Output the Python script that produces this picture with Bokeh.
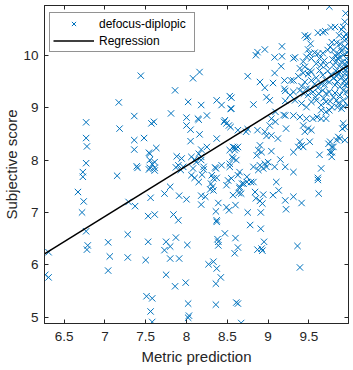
from bokeh.plotting import figure
from bokeh.models import Range1d, LinearAxis, FixedTicker, Legend, LegendItem, CustomLabelingPolicy
from bokeh.embed import file_html
from bokeh.resources import INLINE

x_ticks = [6.5, 7, 7.5, 8, 8.5, 9, 9.5]
x_tick_labels = ["6.5", "7", "7.5", "8", "8.5", "9", "9.5"]
y_ticks = [5, 6, 7, 8, 9, 10]
y_tick_labels = ["5", "6", "7", "8", "9", "10"]

# sparse left / bottom region
pred_a = [7.44, 7.17, 7.18, 6.77, 6.77, 6.78, 6.77, 6.73, 6.73, 7.15,
          7.36, 7.36, 7.36, 7.39, 7.40, 7.48, 7.57, 7.60, 7.54, 7.55,
          7.63, 7.55, 7.58, 7.61, 7.55, 7.61, 7.54, 7.61, 7.81, 7.86,
          7.88, 7.87, 7.90, 7.80, 6.67, 6.74, 6.72, 6.77, 6.79, 6.78,
          6.31, 6.27, 6.31, 7.04, 7.06, 7.04, 7.28, 7.28, 7.29, 7.37,
          7.50, 7.53, 7.53, 7.56, 7.61, 7.51, 7.58, 7.56, 7.58, 7.73,
          7.73, 7.75, 7.80, 7.80, 7.75, 7.86, 7.84, 7.87, 7.90, 7.91,
          7.91, 8.01, 7.99, 8.02, 8.03, 8.02, 8.36]
score_a = [9.61, 9.10, 8.60, 8.72, 8.42, 8.26, 7.94, 7.77, 7.68, 7.70,
           8.84, 8.38, 8.20, 7.88, 7.85, 8.42, 8.70, 8.73, 8.14, 8.12,
           8.23, 8.00, 7.92, 7.96, 7.85, 7.85, 7.82, 7.80, 8.89, 9.33,
           8.07, 7.86, 7.90, 7.49, 7.39, 7.21, 7.00, 6.64, 6.37, 6.29,
           6.24, 5.81, 5.76, 6.43, 6.16, 5.89, 6.58, 6.14, 7.20, 7.12,
           6.09, 6.44, 6.93, 7.28, 6.96, 5.40, 5.36, 5.11, 4.91, 7.36,
           6.28, 6.44, 6.35, 6.12, 5.81, 5.59, 6.96, 6.52, 6.85, 7.32,
           6.12, 6.38, 5.66, 5.26, 5.03, 4.99, 5.24]

# lower middle region
pred_b = [8.47, 8.38, 8.39, 8.39, 8.27, 8.33, 8.37, 8.42, 8.36, 8.59,
          8.60, 8.63, 8.87, 8.92, 8.95, 8.93, 9.36, 9.39, 8.61, 8.63,
          8.67, 8.91, 8.78, 8.75, 8.91, 8.85, 8.90, 8.93, 8.37, 8.37,
          8.36, 8.39, 8.49, 8.52, 8.60, 8.57, 8.18, 8.18, 8.23, 8.00,
          8.15, 8.30, 8.32, 8.29, 8.33, 8.53, 8.51, 8.49, 8.55, 8.31,
          8.33, 8.36, 8.37, 8.21, 8.19, 8.08, 8.06, 8.10, 7.93, 8.68,
          8.65, 8.64, 8.67, 8.74, 8.79, 8.82, 9.10, 9.06, 9.13, 9.21,
          9.22, 9.31, 9.41, 9.62, 9.61, 9.31, 9.65, 9.61]
score_b = [6.60, 6.49, 6.37, 6.44, 6.01, 6.06, 5.93, 5.76, 5.64, 6.22,
           6.51, 6.33, 6.29, 6.31, 6.44, 6.27, 6.36, 5.95, 5.28, 5.26,
           4.89, 6.69, 6.76, 7.00, 7.00, 7.27, 7.22, 7.17, 6.85, 6.82,
           7.02, 7.18, 7.10, 7.04, 7.14, 7.33, 7.32, 7.15, 7.30, 7.25,
           7.58, 7.55, 7.49, 7.44, 7.42, 7.87, 7.61, 7.52, 7.65, 7.71,
           7.65, 7.84, 7.66, 7.82, 7.72, 7.84, 7.71, 7.66, 7.81, 7.55,
           7.49, 7.37, 7.36, 7.58, 7.58, 7.58, 7.58, 7.33, 7.42, 7.23,
           7.06, 7.30, 7.18, 7.36, 7.62, 7.77, 7.84, 7.66]

# upper middle region
pred_c = [8.16, 8.08, 8.02, 8.18, 8.37, 8.43, 8.53, 8.54, 8.25, 8.15,
          8.00, 8.00, 8.05, 8.16, 8.05, 8.47, 8.49, 8.52, 8.46, 8.54,
          8.37, 8.25, 8.18, 8.15, 8.18, 8.53, 8.59, 8.56, 8.53, 7.94,
          8.06, 8.10, 8.12, 8.18, 8.21, 7.96, 8.35, 8.43, 8.14, 8.87,
          8.85, 8.96, 9.17, 9.08, 9.17, 9.16, 9.08, 8.75, 8.90, 8.96,
          9.06, 9.20, 9.28, 9.20, 9.21, 8.55, 8.82, 8.98, 9.02, 9.21,
          9.27, 8.55, 9.19, 9.21, 9.09, 9.04, 9.09, 9.02, 8.87, 8.96,
          8.98, 9.04, 9.12, 8.63, 8.73, 8.75, 9.22, 8.57, 8.61, 8.59,
          8.63, 8.57, 8.61, 8.90, 8.88, 8.92, 8.86, 9.04, 9.15, 8.82,
          8.90, 8.96, 8.94, 8.98, 9.00, 8.88, 9.08, 9.21, 8.65, 8.63,
          8.74, 8.70, 8.65, 8.84, 8.94]
score_c = [9.68, 9.56, 9.11, 9.05, 9.14, 9.05, 9.22, 8.98, 8.85, 8.77,
           8.81, 8.66, 8.58, 8.49, 8.36, 8.76, 8.70, 8.66, 8.73, 8.63,
           8.41, 8.25, 8.20, 8.12, 8.06, 8.19, 8.24, 8.06, 7.93, 8.03,
           8.06, 8.01, 7.96, 8.00, 7.87, 7.87, 7.86, 7.90, 8.79, 10.06,
           10.00, 10.11, 10.17, 9.96, 9.98, 9.79, 9.66, 9.60, 9.49, 9.38,
           9.47, 9.52, 9.52, 9.36, 9.32, 9.19, 9.06, 9.20, 9.14, 9.13,
           9.24, 8.98, 8.86, 8.85, 8.92, 8.79, 8.73, 8.66, 8.57, 8.54,
           8.46, 8.47, 8.41, 8.57, 8.54, 8.59, 8.60, 8.25, 8.22, 8.19,
           8.25, 8.03, 8.00, 8.28, 8.19, 8.15, 8.09, 8.17, 8.01, 7.87,
           7.90, 7.93, 7.84, 7.87, 7.96, 7.81, 7.87, 7.87, 7.77, 7.71,
           7.68, 7.55, 7.46, 7.39, 7.34]

# right cluster, top
pred_d = [9.75, 9.95, 9.94, 9.92, 9.90, 9.77, 9.67, 9.61, 9.49, 9.87,
          9.93, 9.96, 9.98, 9.52, 9.78, 9.84, 9.76, 9.80, 9.89, 9.94,
          9.99, 9.49, 9.51, 9.47, 9.53, 9.33, 9.31, 9.61, 9.67, 9.63,
          9.69, 9.59, 9.65, 9.71, 9.45, 9.47, 9.82, 9.70, 9.45, 9.39,
          9.51, 9.43, 9.49, 9.53, 9.31]
score_d = [10.93, 10.80, 10.64, 10.54, 10.49, 10.53, 10.44, 10.43, 10.36, 10.38,
           10.35, 10.41, 10.35, 10.22, 10.25, 10.24, 10.16, 10.10, 10.13, 10.16,
           10.25, 10.11, 10.03, 9.97, 9.94, 9.96, 9.94, 10.03, 10.04, 9.94,
           9.90, 9.84, 9.81, 9.81, 10.38, 10.34, 10.54, 10.46, 9.78, 9.75,
           9.71, 9.66, 9.64, 9.68, 9.52]

# right cluster, dense middle
pred_e = [9.82, 9.86, 9.88, 9.92, 9.96, 9.84, 9.90, 9.94, 9.98, 9.80,
          9.87, 9.92, 9.97, 9.83, 9.88, 9.94, 9.98, 9.63, 9.67, 9.59,
          9.71, 9.65, 9.75, 9.80, 9.84, 9.90, 9.95, 9.82, 9.88, 9.94,
          9.45, 9.41, 9.47, 9.39, 9.51, 9.44, 9.49, 9.55, 9.58, 9.67,
          9.71, 9.75, 9.80, 9.84, 9.88, 9.92, 9.96, 9.98, 9.92, 9.86,
          9.31, 9.33, 9.41, 9.47, 9.53, 9.59, 9.65, 9.71, 9.78, 9.92,
          9.90]
score_e = [10.00, 10.03, 9.96, 10.00, 9.94, 9.89, 9.87, 9.84, 9.85, 9.81,
           9.79, 9.75, 9.75, 9.70, 9.68, 9.65, 9.65, 9.71, 9.62, 9.57,
           9.52, 9.46, 9.49, 9.56, 9.60, 9.57, 9.54, 9.43, 9.40, 9.43,
           9.49, 9.41, 9.36, 9.33, 9.35, 9.27, 9.24, 9.30, 9.20, 9.33,
           9.27, 9.30, 9.20, 9.14, 9.24, 9.33, 9.30, 9.20, 9.14, 9.08,
           9.30, 9.14, 9.08, 9.01, 9.11, 9.14, 9.05, 9.11, 9.01, 9.03,
           8.98]

# right cluster, overlapping marks at the far right
pred_g = [9.97, 9.99, 9.95, 9.99, 9.97, 9.99, 9.93, 9.86, 9.90, 9.85,
          9.79, 9.73, 9.77, 9.69, 9.61, 9.57, 9.53, 9.62, 9.68, 9.76,
          9.82, 9.85, 9.97, 9.99, 9.94, 9.88, 9.73, 9.57, 9.43, 9.37]
score_g = [10.05, 9.90, 9.72, 9.58, 9.45, 9.36, 9.50, 9.66, 10.08, 9.94,
           9.92, 9.70, 9.63, 9.44, 9.38, 9.45, 9.52, 9.27, 9.18, 9.12,
           9.28, 9.50, 9.05, 10.10, 10.28, 10.22, 10.10, 10.05, 9.88, 9.60]

# right cluster, lower part
pred_f = [9.39, 9.47, 9.43, 9.49, 9.53, 9.45, 9.55, 9.60, 9.65, 9.71,
          9.65, 9.71, 9.75, 9.85, 9.31, 9.92, 9.91, 9.94, 9.94, 9.86,
          9.39, 9.41, 9.37, 9.43, 9.51, 9.31, 9.76, 9.78, 9.80, 9.76,
          9.78, 9.63, 9.74, 9.84, 9.88, 9.78]
score_f = [8.82, 8.79, 8.66, 8.60, 8.57, 8.54, 8.79, 8.82, 8.95, 8.92,
           8.79, 8.79, 8.95, 9.01, 8.85, 8.70, 8.60, 8.63, 8.38, 8.44,
           8.35, 8.28, 8.25, 8.25, 8.35, 8.15, 8.35, 8.25, 8.25, 8.15,
           8.06, 8.10, 8.31, 8.38, 8.41, 8.15]

# regression line end points
reg_x = [6.26, 9.985]
reg_y = [6.21, 9.805]

pred = pred_a + pred_b + pred_c + pred_d + pred_e + pred_g + pred_f
score = score_a + score_b + score_c + score_d + score_e + score_g + score_f

AX = "#262626"
FONT = "Liberation Sans"

p = figure(width=353, height=370, output_backend="svg", toolbar_location=None,
           x_range=Range1d(6.26, 9.985), y_range=Range1d(4.88, 10.95),
           min_border_left=43, min_border_right=5, min_border_top=5, min_border_bottom=47)
p.xgrid.visible = False
p.ygrid.visible = False
p.outline_line_color = AX
p.outline_line_width = 1
p.background_fill_color = "white"
p.border_fill_color = "white"

xo = {t: l for t, l in zip(x_ticks, x_tick_labels)}
yo = {t: l for t, l in zip(y_ticks, y_tick_labels)}

def style(ax, ticks, overrides=None, show_labels=True):
    ax.ticker = FixedTicker(ticks=ticks)
    ax.major_tick_in = 4
    ax.major_tick_out = 0
    ax.minor_tick_in = 0
    ax.minor_tick_out = 0
    ax.axis_line_color = AX
    ax.major_tick_line_color = AX
    ax.major_label_text_font = FONT
    ax.major_label_text_color = AX
    if show_labels:
        ax.major_label_text_font_size = "13.5px"
        ax.major_label_overrides = overrides
    else:
        ax.major_label_text_font_size = "0px"
        ax.major_label_standoff = 0
        ax.major_label_policy = CustomLabelingPolicy(code="return new Set()")
    ax.axis_label_text_font = FONT
    ax.axis_label_text_font_size = "15px"
    ax.axis_label_text_font_style = "normal"
    ax.axis_label_text_color = AX

xa = p.xaxis[0]
ya = p.yaxis[0]
style(xa, x_ticks, xo)
style(ya, y_ticks, yo)
xa.axis_label = "Metric prediction"
ya.axis_label = "Subjective score"
xa.major_label_standoff = 8
xa.axis_label_standoff = 4
ya.major_label_standoff = 6
ya.axis_label_standoff = 0

top = LinearAxis()
style(top, x_ticks, show_labels=False)
p.add_layout(top, "above")
right = LinearAxis()
style(right, y_ticks, show_labels=False)
p.add_layout(right, "right")

r1 = p.scatter(pred, score, marker="x", size=9, line_color="#0072BD", line_width=1)
r2 = p.line(reg_x, reg_y, line_color="black", line_width=1.5)

legend = Legend(items=[LegendItem(label="defocus-diplopic", renderers=[r1]),
                       LegendItem(label="Regression", renderers=[r2])],
                location=(5, 271), margin=0, padding=3, spacing=2,
                glyph_width=41, glyph_height=15, label_height=15, label_width=92,
                label_standoff=5, label_text_font=FONT, label_text_font_size="12px",
                label_text_color="black", border_line_color=AX, border_line_width=1,
                background_fill_color="white", background_fill_alpha=1)
p.add_layout(legend)

open("out.html", "w").write(file_html(p, INLINE))
